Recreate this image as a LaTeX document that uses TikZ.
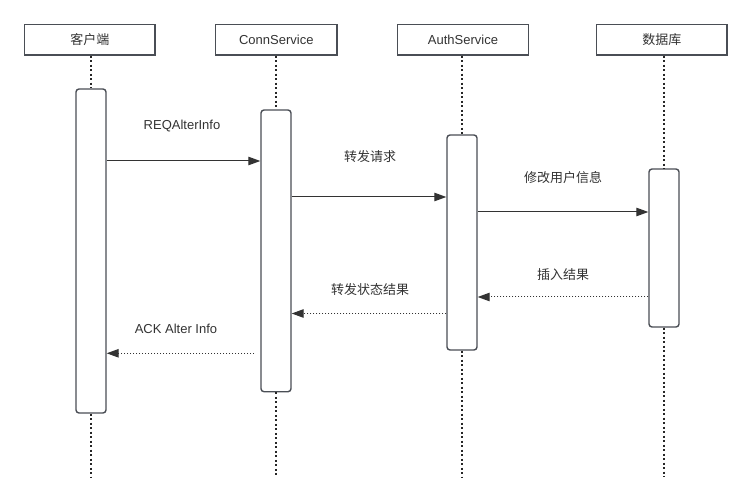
\documentclass[tikz,border=0pt]{standalone}
\usepackage{fontspec}
\setmainfont{Liberation Sans}
\newfontfamily\cjk{Noto Sans CJK SC}
\usetikzlibrary{arrows.meta,calc}
\definecolor{boxc}{HTML}{4A4E55}
\definecolor{txtc}{HTML}{333333}
\begin{document}
\begin{tikzpicture}[x=1pt,y=-1pt,
  head/.style={draw=boxc,line width=1.5pt,fill=white,minimum height=30.5pt,inner sep=0pt,font=\fontsize{13}{15}\selectfont,text=txtc},
  bar/.style={draw=boxc,line width=1.4pt,fill=white,rounded corners=3pt,minimum width=30pt,inner sep=0pt},
  life/.style={draw=black!85,line width=2pt,dash pattern=on 2pt off 2.5pt},
  msg/.style={draw=txtc,line width=1pt,-{Triangle[length=12pt,width=8.5pt]}},
  ret/.style={draw=txtc,line width=1pt,dash pattern=on 1pt off 2pt,-{Triangle[length=12pt,width=8.5pt]}},
  lbl/.style={font=\fontsize{13}{15}\selectfont,text=txtc,inner sep=0pt}]
\useasboundingbox[fill=white] (0,0) rectangle (752,502);
% headers
\node[head,minimum width=130.5pt] (h1) at (89.75,39.75) {\cjk 客户端};
\node[head,minimum width=121.3pt] (h2) at (276.3,39.75) {ConnService};
\node[head,minimum width=130.6pt] (h3) at (463,39.75) {AuthService};
\node[head,minimum width=130.3pt] (h4) at (661.8,39.75) {\cjk 数据库};
% end points of lifelines
\coordinate (e1) at (90,477);
\coordinate (e2) at (276,477);
\coordinate (e3) at (463,477);
\coordinate (e4) at (662,477);
% activation bars
\node[bar,minimum height=324pt] (b1) at (91,251) {};
\node[bar,minimum height=281.7pt] (b2) at (276,250.85) {};
\node[bar,minimum height=215pt] (b3) at (462,242.5) {};
\node[bar,minimum height=158pt] (b4) at (664,248) {};
% lifelines
\draw[life] (h1.south -| b1) -- (b1.north);
\draw[life] (b1.south) -- (e1 -| b1);
\draw[life] (h2.south -| b2) -- (b2.north);
\draw[life] (b2.south) -- (e2 -| b2);
\draw[life] (h3.south -| b3) -- (b3.north);
\draw[life] (b3.south) -- (e3 -| b3);
\draw[life] (h4.south -| b4) -- (b4.north);
\draw[life] (b4.south) -- (e4 -| b4);
% message levels
\coordinate (y1) at (0,161);
\coordinate (y2) at (0,197);
\coordinate (y3) at (0,212);
\coordinate (y4) at (0,297);
\coordinate (y5) at (0,313.5);
\coordinate (y6) at (0,353.3);
\coordinate (s6) at (254,353.3);
% messages
\draw[msg] (b1.east |- y1) -- (b2.west |- y1);
\draw[msg] (b2.east |- y2) -- (b3.west |- y2);
\draw[msg] (b3.east |- y3) -- (b4.west |- y3);
\draw[ret] (b4.west |- y4) -- (b3.east |- y4);
\draw[ret] (b3.west |- y5) -- (b2.east |- y5);
\draw[ret] (s6) -- (b1.east |- y6);
% labels
\node[lbl] (l1) at (182,126) {REQAlterInfo};
\node[lbl] (l2) at (370,157) {\cjk 转发请求};
\node[lbl] (l3) at (563,178) {\cjk 修改用户信息};
\node[lbl] (l4) at (563,275) {\cjk 插入结果};
\node[lbl] (l5) at (370,290) {\cjk 转发状态结果};
\node[lbl] (l6) at (176,329) {ACK Alter Info};
\end{tikzpicture}
\end{document}
